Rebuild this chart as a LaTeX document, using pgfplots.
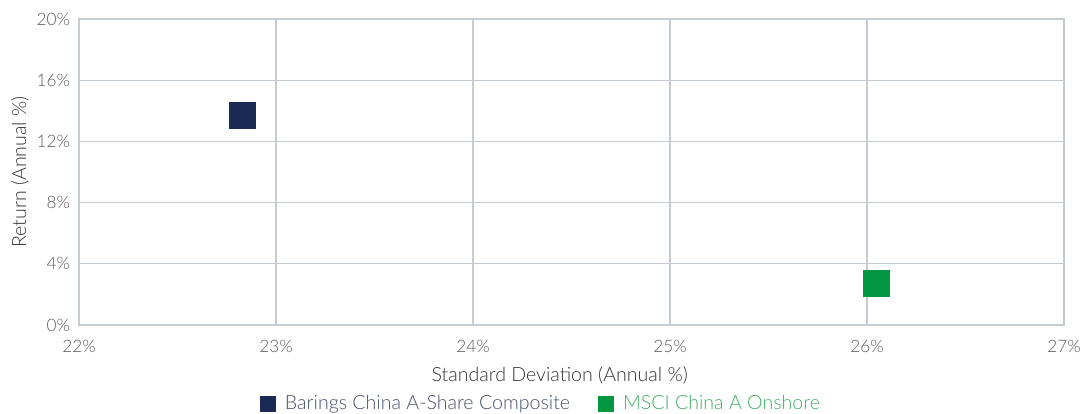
\documentclass[border=0pt]{standalone}
\usepackage{fontspec}
\setmainfont{Lato}[UprightFont=* Light]
\usepackage{pgfplots}
\pgfplotsset{compat=1.18}
\definecolor{navy}{HTML}{1B2A55}
\definecolor{mgreen}{HTML}{00963F}
\definecolor{gridc}{HTML}{C5CBD3}
\definecolor{tickc}{HTML}{5A5A5A}
\definecolor{navytxt}{HTML}{44506E}
\definecolor{greentxt}{HTML}{3DAE62}
\begin{document}
\begin{tikzpicture}[x=0.5pt,y=0.5pt]
\begin{axis}[
    at={(0,0)}, anchor=south west,
    scale only axis,
    width=492.5pt, height=153pt,
    xmin=22, xmax=27, ymin=0, ymax=20,
    xtick={22,23,24,25,26,27},
    xticklabels={22\%,23\%,24\%,25\%,26\%,27\%},
    ytick={0,4,8,12,16,20},
    yticklabels={0\%,4\%,8\%,12\%,16\%,20\%},
    grid=major,
    major grid style={gridc, line width=0.6pt},
    axis line style={gridc, line width=0.8pt},
    major tick length=0pt,
    tick label style={font=\fontsize{8.6}{10}\selectfont, text=tickc},
    xticklabel style={yshift=-4pt},
    yticklabel style={xshift=-1pt},
    label style={font=\fontsize{9.8}{11}\selectfont, text=black!80},
    xlabel={Standard Deviation (Annual \%)},
    ylabel={Return (Annual \%)},
    xlabel style={at={(axis description cs:0.488,-0.165)}, anchor=center},
    ylabel style={at={(axis description cs:-0.0599,0.5)}, anchor=center},
    clip=false,
    legend columns=2,
    legend style={draw=none, fill=none, at={(axis description cs:0.470,-0.258)}, anchor=center,
        font=\fontsize{9.8}{11}\selectfont, /tikz/every even column/.append style={column sep=12pt}},
    legend cell align=left,
]
\addplot[only marks, mark=square*, mark size=6.5pt, draw=navy, fill=navy,
    legend image post style={mark size=3.75pt}] coordinates {(22.83,13.7)};
\addlegendentry{\hspace{3pt}\textcolor{navytxt}{Barings China A-Share Composite}}
\addplot[only marks, mark=square*, mark size=6.5pt, draw=mgreen, fill=mgreen,
    legend image post style={mark size=3.75pt}] coordinates {(26.05,2.75)};
\addlegendentry{\hspace{3pt}\textcolor{greentxt}{MSCI China A Onshore}}
\end{axis}
\pgfresetboundingbox
\useasboundingbox (-79,-88) rectangle (1001,325);
\end{tikzpicture}
\end{document}
